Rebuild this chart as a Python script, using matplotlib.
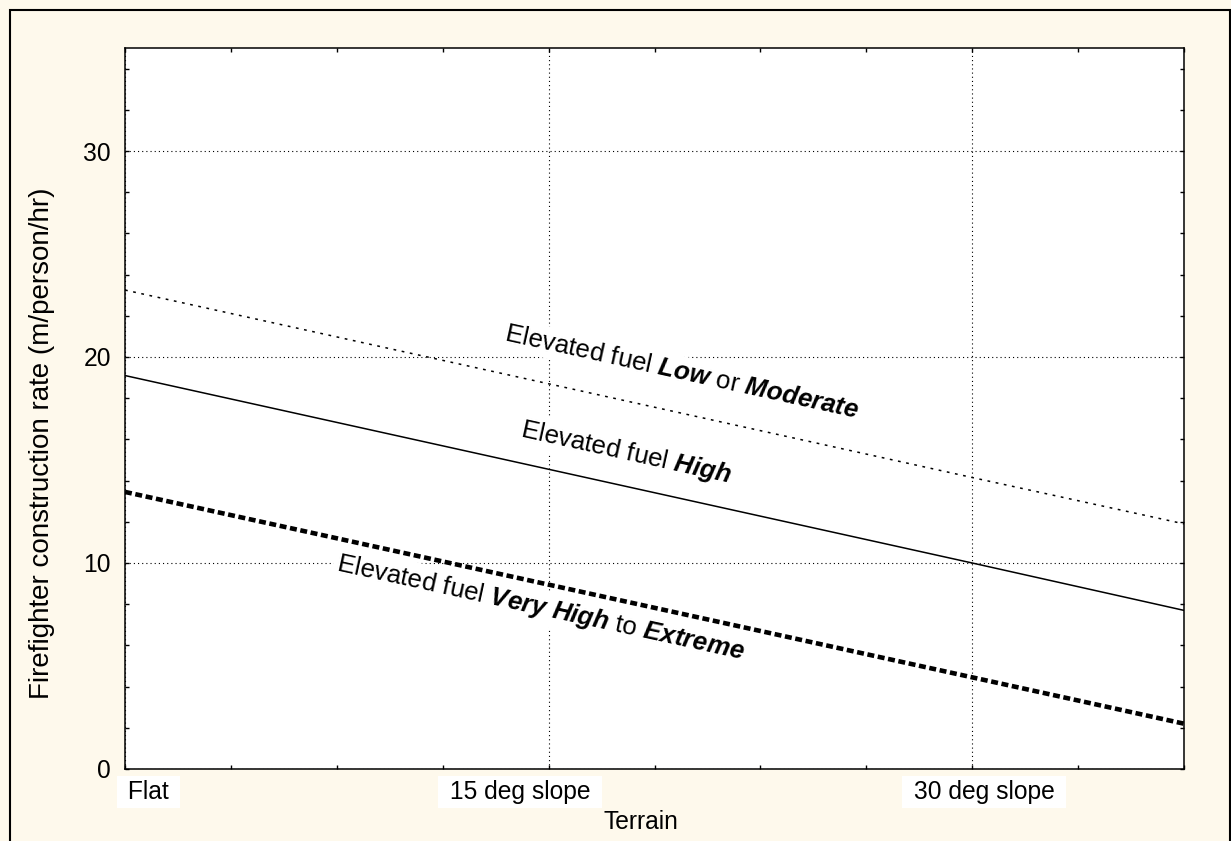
import numpy as np
import matplotlib
matplotlib.use('Agg')
import matplotlib.pyplot as plt
from matplotlib.patches import Rectangle
from matplotlib.transforms import ScaledTranslation, blended_transform_factory

plt.rcParams['font.family'] = ['Liberation Sans', 'DejaVu Sans']
plt.rcParams['font.size'] = 17.7
plt.rcParams['mathtext.fontset'] = 'custom'
plt.rcParams['mathtext.rm'] = 'Liberation Sans'
plt.rcParams['mathtext.it'] = 'Liberation Sans:italic'
plt.rcParams['mathtext.bf'] = 'Liberation Sans:bold:italic'
plt.rcParams['lines.scale_dashes'] = False

# data
terrain = [0, 15, 30, 37.5]
low_moderate = [23.25, 18.7, 14.15, 11.9]
high = [19.1, 14.55, 10.0, 7.7]
vhigh_extreme = [13.45, 8.95, 4.45, 2.2]

xtick_pos = [0, 15, 30]
xtick_labels = ['Flat', '15 deg slope', '30 deg slope']
ytick_pos = [0, 10, 20, 30]

label_low = r'Elevated fuel $\mathbf{Low}$ or $\mathbf{Moderate}$'
label_high = r'Elevated fuel $\mathbf{High}$'
label_vhigh = r'Elevated fuel $\mathbf{Very\ High}$ to $\mathbf{Extreme}$'

bg = '#FEF9EC'
fig = plt.figure(figsize=(12.31, 8.41), dpi=100, facecolor=bg)
fig.patches.append(Rectangle((10/1231, -0.1), (1229.5-10)/1231, 1.1 - 10/841, transform=fig.transFigure,
                             fill=False, edgecolor='black', lw=1.5, clip_on=False))
ax = fig.add_axes([125/1231, 1-769/841, (1184-125)/1231, (769-48)/841])
ax.set_facecolor('white')

ax.set_xlim(0, 37.5)
ax.set_ylim(0, 35)

ax.plot(terrain, low_moderate, color='black', lw=1.1, linestyle=(0, (2.0, 4.0)), zorder=3)
ax.plot(terrain, high, color='black', lw=1.1, linestyle='-', zorder=3)
ax.plot(terrain, vhigh_extreme, color='black', lw=3.3, linestyle=(0, (5.0, 2.6)), zorder=3)

# grid
ax.set_xticks(xtick_pos)
ax.set_xticklabels([])
ax.set_xticks(np.arange(0, 37.6, 3.75), minor=True)
ax.set_yticks(ytick_pos)
ax.set_yticks(np.arange(0, 35, 2), minor=True)
ax.grid(True, which='major', color='black', lw=0.8, linestyle=(0, (0.8, 2.2)), zorder=0.5)
ax.set_axisbelow(True)
ax.tick_params(which='both', direction='in', length=2.8, width=1, top=True, right=True, pad=10)

for s in ax.spines.values():
    s.set_linewidth(1.1)
    s.set_color('black')

# x tick labels as boxed texts
xoffs = [23.5, -28.5, 12]
trans = blended_transform_factory(ax.transData, ax.transAxes)
for xp, lab, off in zip(xtick_pos, xtick_labels, xoffs):
    ax.text(xp, 0, ' ' + lab + ' ', transform=trans + ScaledTranslation(off/100, -23/100, fig.dpi_scale_trans),
            ha='center', va='center', clip_on=False,
            bbox=dict(boxstyle='square,pad=0.18', fc='white', ec='none'))

ax.set_xlabel('Terrain')
ax.xaxis.set_label_coords((641-125)/1059, (769-810)/721)
ax.set_ylabel('Firefighter construction rate (m/person/hr)', fontsize=20)
ax.yaxis.set_label_coords((55-125)/1059, (769-443)/721)


def line_angle(xs, ys):
    p = ax.transData.transform(np.column_stack([xs, ys]))
    return np.degrees(np.arctan2(p[-1, 1]-p[0, 1], p[-1, 0]-p[0, 0]))


for lab, (tx, ty), ys in [(label_low, (19.7, 19.27), low_moderate),
                          (label_high, (17.74, 15.34), high),
                          (label_vhigh, (14.73, 7.82), vhigh_extreme)]:
    ax.text(tx, ty, lab, rotation=line_angle(terrain, ys), rotation_mode='anchor',
            ha='center', va='center', zorder=2.5, fontsize=18.6,
            bbox=dict(boxstyle='square,pad=0.15', fc='white', ec='none'))

fig.savefig('out.png', dpi=100, facecolor=bg)
